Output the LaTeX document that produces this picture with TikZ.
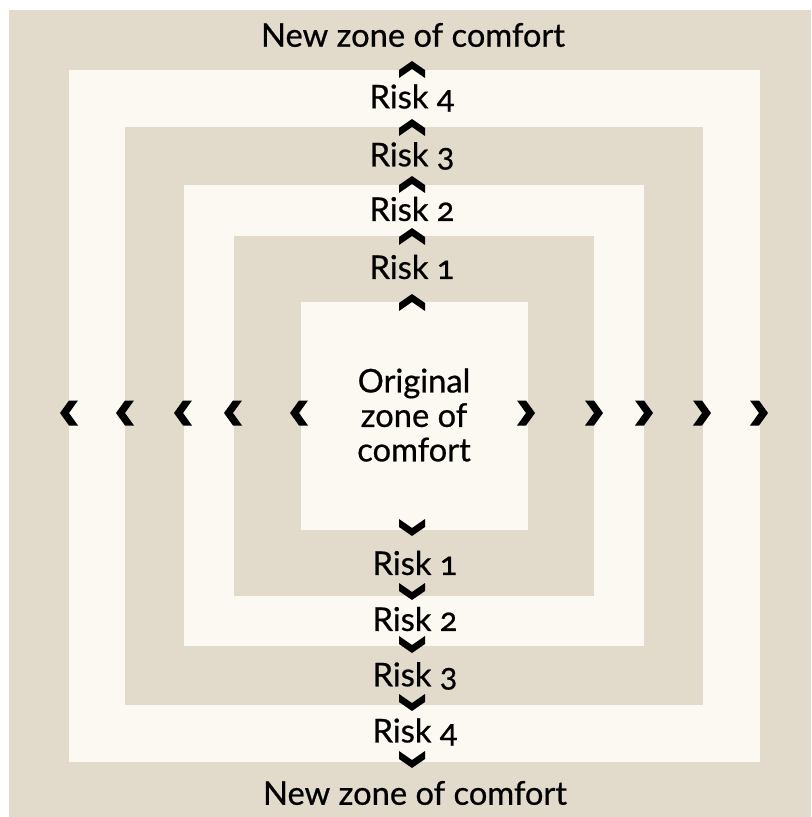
\documentclass[tikz,border=0pt]{standalone}
\usepackage{fontspec}
\setmainfont[Numbers=OldStyle,FakeBold=0.6]{Lato}
\usetikzlibrary{positioning}

\definecolor{sand}{RGB}{226,219,203}
\definecolor{cream}{RGB}{252,249,242}

\tikzset{
    zone/.style={fill=#1, draw=none},
    lbl/.style={inner sep=0pt, font=\fontsize{18.6}{19.6}\selectfont, align=center},
    upchev/.pic={\fill[black] (-13,0) -- (0,-9) -- (13,0) -- (13,8) -- (0,-1) -- (-13,8) -- cycle;},
    leftchev/.pic={\fill[black] (0,-12.5) -- (-9,0) -- (0,12.5) -- (9,12.5) -- (0,0) -- (9,-12.5) -- cycle;}
}

\begin{document}
\begin{tikzpicture}[x=0.02cm, y=-0.02cm]

\useasboundingbox (0,0) rectangle (811,817);

% Zones
\fill[zone=sand]  (9,10)    rectangle (811,817);
\fill[zone=cream] (69,70)   rectangle (760,762);
\fill[zone=sand]  (125,127) rectangle (703,705);
\fill[zone=cream] (184,185) rectangle (644,646);
\fill[zone=sand]  (234,236) rectangle (594,596);
\fill[zone=cream] (301,302) rectangle (528,530);

% Original zone
\node[lbl] (orig) at (414,415) {Original\\zone of\\comfort};

% Upwards
\node[lbl] (newtop) at (413,35)  {New zone of comfort};
\node[lbl] (up4)    at (412,98)  {Risk 4};
\node[lbl] (up3)    at (412,156) {Risk 3};
\node[lbl] (up2)    at (412,209) {Risk 2};
\node[lbl] (up1)    at (412,267) {Risk 1};

% Downwards
\node[lbl] (down1)  at (415,563) {Risk 1};
\node[lbl] (down2)  at (415,619) {Risk 2};
\node[lbl] (down3)  at (415,676) {Risk 3};
\node[lbl] (down4)  at (415,732) {Risk 4};
\node[lbl] (newbot) at (415,793) {New zone of comfort};

% Chevrons
\foreach \y in {70,128,185,237,303}
    \pic at (412,\y) {upchev};
\foreach \y in {527,591,644,702,759}
    \pic[yscale=-1] at (412,\y) {upchev};
\foreach \x in {69,125,183,233,299}
    \pic at (\x,413) {leftchev};
\foreach \x in {526,594,644,702,759}
    \pic[xscale=-1] at (\x,413) {leftchev};

\end{tikzpicture}
\end{document}
